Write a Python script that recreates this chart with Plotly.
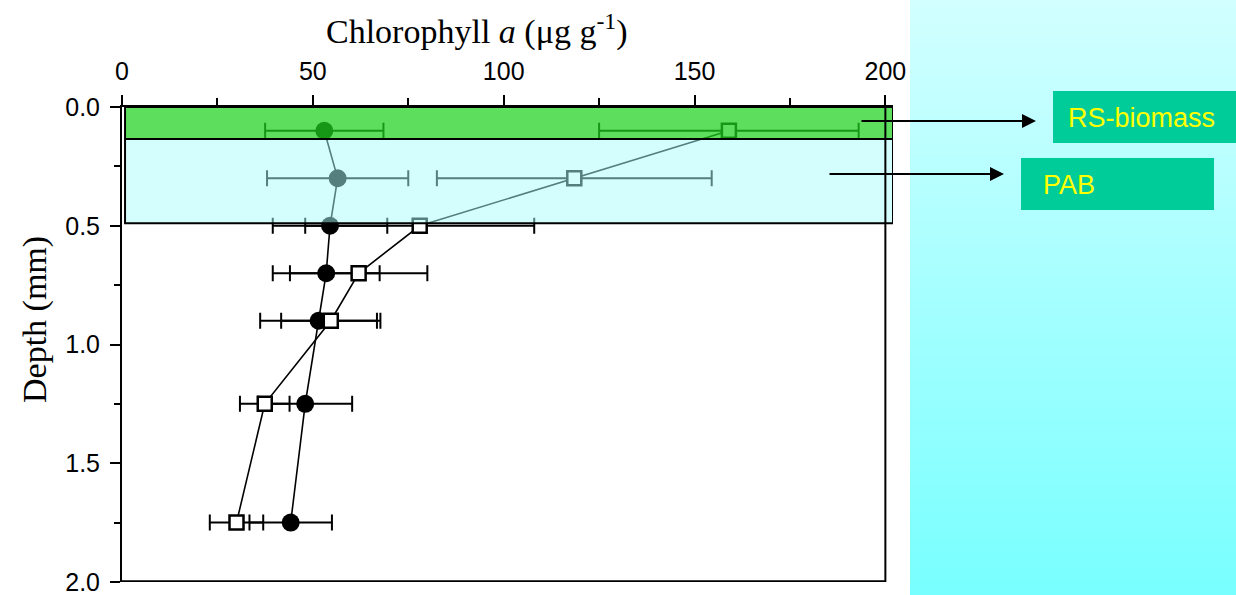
import plotly.graph_objects as go

W, H = 1236, 595

# ---- data ----
depth = [0.1, 0.3, 0.5, 0.7, 0.9, 1.25, 1.75]
filled_chl = [53.0, 56.5, 54.5, 53.5, 51.5, 48.0, 44.2]
filled_err = [15.5, 18.5, 15.0, 14.0, 15.3, 12.3, 10.8]
open_chl = [159.0, 118.5, 78.0, 62.0, 54.7, 37.4, 30.0]
open_err = [34.0, 36.0, 30.0, 18.0, 13.0, 6.5, 7.0]

x_ticks = [0, 50, 100, 150, 200]
y_ticks = [0.0, 0.5, 1.0, 1.5, 2.0]
rs_band = [0.0, 0.135]
pab_band = [0.135, 0.49]
labels = ["RS-biomass", "PAB"]


def px(x):
    return x / W


def py(y):
    return 1 - y / H


fig = go.Figure()

# gradient side panel (decorative)
fig.add_trace(go.Heatmap(
    z=[[0, 0], [1, 1]], x=[0, 1], y=[0, 1], zsmooth="best",
    colorscale=[[0, "rgb(120,255,255)"], [1, "rgb(210,255,255)"]],
    showscale=False, hoverinfo="skip", xaxis="x2", yaxis="y2"))

fig.add_trace(go.Scatter(
    x=filled_chl, y=depth, mode="lines+markers", name="filled",
    line=dict(color="black", width=1.6),
    marker=dict(symbol="circle", size=18, color="black"),
    error_x=dict(type="data", array=filled_err, color="black", thickness=2, width=8),
    showlegend=False))

fig.add_trace(go.Scatter(
    x=open_chl, y=depth, mode="lines+markers", name="open",
    line=dict(color="black", width=1.6),
    marker=dict(symbol="square", size=14, color="white",
                line=dict(color="black", width=2.5)),
    error_x=dict(type="data", array=open_err, color="black", thickness=2, width=8),
    showlegend=False))

shapes = []
# translucent bands over the data
shapes.append(dict(type="rect", xref="x", yref="y", x0=0.8, x1=202,
                   y0=rs_band[0], y1=rs_band[1], fillcolor="rgb(30,210,30)",
                   opacity=0.72, line=dict(width=0), layer="above"))
shapes.append(dict(type="rect", xref="x", yref="y", x0=0.8, x1=202,
                   y0=pab_band[0], y1=pab_band[1], fillcolor="rgb(170,252,252)",
                   opacity=0.5, line=dict(width=0), layer="above"))
for b in (rs_band, pab_band):
    shapes.append(dict(type="rect", xref="x", yref="y", x0=0.8, x1=202,
                       y0=b[0], y1=b[1], fillcolor="rgba(0,0,0,0)",
                       line=dict(color="black", width=2), layer="above"))
# right and bottom frame lines
shapes.append(dict(type="line", xref="x", yref="y", x0=200, x1=200, y0=0, y1=2,
                   line=dict(color="black", width=2), layer="above"))
shapes.append(dict(type="line", xref="x", yref="y", x0=-1, x1=200, y0=2, y1=2,
                   line=dict(color="black", width=3.5), layer="above"))
# label boxes
shapes.append(dict(type="rect", xref="paper", yref="paper", x0=px(1053), x1=px(1236),
                   y0=py(143), y1=py(91), fillcolor="#00CC99", line=dict(width=0),
                   layer="above"))
shapes.append(dict(type="rect", xref="paper", yref="paper", x0=px(1021), x1=px(1214),
                   y0=py(210), y1=py(158), fillcolor="#00CC99", line=dict(width=0),
                   layer="above"))

annotations = [
    dict(text="Chlorophyll <i>a</i> (μg g<sup>-1</sup>)", xref="paper", yref="paper",
         x=px(477), y=py(29), xanchor="center", yanchor="middle", showarrow=False,
         font=dict(family="Liberation Serif", size=34, color="black")),
    dict(text="Depth (mm)", xref="paper", yref="paper", x=px(35), y=py(320),
         xanchor="center", yanchor="middle", textangle=-90, showarrow=False,
         font=dict(family="Liberation Serif", size=34, color="black")),
    dict(text=labels[0], xref="paper", yref="paper", x=px(1141), y=py(118),
         xanchor="center", yanchor="middle", showarrow=False,
         font=dict(family="Liberation Sans", size=27, color="#FFFF00")),
    dict(text=labels[1], xref="paper", yref="paper", x=px(1041), y=py(185),
         xanchor="left", yanchor="middle", showarrow=False,
         font=dict(family="Liberation Sans", size=27, color="#FFFF00")),
    dict(text="", xref="paper", yref="paper", x=px(1036), y=py(121),
         axref="pixel", ayref="pixel", ax=-(1036 - 860), ay=0, showarrow=True,
         arrowhead=2, arrowsize=1.4, arrowwidth=2, arrowcolor="black", standoff=0),
    dict(text="", xref="paper", yref="paper", x=px(1004), y=py(174),
         axref="pixel", ayref="pixel", ax=-(1004 - 828), ay=0, showarrow=True,
         arrowhead=2, arrowsize=1.4, arrowwidth=2, arrowcolor="black", standoff=0),
]

fig.update_layout(
    width=W, height=H,
    margin=dict(l=0, r=0, t=0, b=0, pad=0, autoexpand=False),
    paper_bgcolor="white", plot_bgcolor="white",
    shapes=shapes, annotations=annotations,
    xaxis=dict(domain=[px(122), px(893)], range=[0, 202], side="top",
               tickvals=x_ticks, ticks="outside", ticklen=10, tickwidth=2,
               tickcolor="black", showline=True, linewidth=2, linecolor="black",
               minor=dict(tickvals=[25, 75, 125, 175], ticks="outside", ticklen=7,
                          tickwidth=2, tickcolor="black"),
               showgrid=False, zeroline=False, ticklabelstandoff=5,
               ticklabeloverflow="allow",
               tickfont=dict(family="Liberation Sans", size=25, color="black"),
               anchor="y", automargin=False),
    yaxis=dict(domain=[1 - 582 / H, 1 - 107 / H], range=[2.0, 0.0],
               tickvals=y_ticks, tickformat=".1f", ticks="outside", ticklen=10,
               tickwidth=2, tickcolor="black", showline=True, linewidth=2,
               linecolor="black",
               minor=dict(tickvals=[0.25, 0.75, 1.25, 1.75], ticks="outside",
                          ticklen=6, tickwidth=2, tickcolor="black"),
               showgrid=False, zeroline=False, ticklabelstandoff=5,
               ticklabeloverflow="allow",
               tickfont=dict(family="Liberation Sans", size=25, color="black"),
               anchor="x", automargin=False),
    xaxis2=dict(domain=[px(910), 1], range=[0, 1], visible=False, anchor="y2",
                fixedrange=True, automargin=False),
    yaxis2=dict(domain=[0, 1], range=[0, 1], visible=False, anchor="x2",
                fixedrange=True, automargin=False),
)

fig.write_html("out.html", config={"displayModeBar": False},
               post_script="document.body.style.margin='0px';"
                           "document.body.style.overflow='hidden';")
